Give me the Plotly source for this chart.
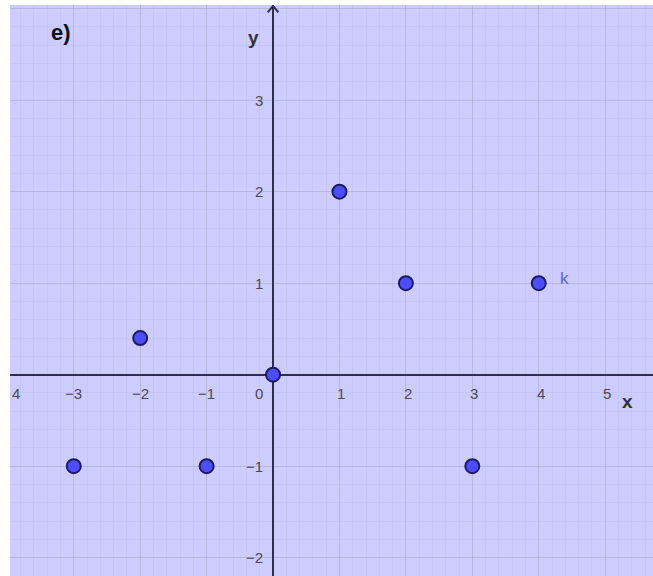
import plotly.graph_objects as go

# Data
point_x = [-3, -2, -1, 0, 1, 2, 3, 4]
point_y = [-1, 0.4, -1, 0, 2, 1, -1, 1]
point_label = "k"
x_ticks = [-4, -3, -2, -1, 1, 2, 3, 4, 5]
y_ticks = [-2, -1, 1, 2, 3]
x_range = [-3.96, 5.72]
y_range = [-2.20, 4.04]

bg = "#ccccfe"
axis_col = "#2e2e4c"
tick_col = "#4a4a55"
font_fam = "Liberation Sans, Arial, sans-serif"

fig = go.Figure()
fig.add_trace(go.Scatter(
    x=point_x, y=point_y, mode="markers",
    marker=dict(size=14, color="#4d4dff", line=dict(color="#1c1c5e", width=2)),
    hoverinfo="skip", showlegend=False, cliponaxis=False,
))

annotations = []
for t in x_ticks:
    if t == x_ticks[0]:
        annotations.append(dict(x=x_range[0], y=0, xref="x", yref="y", text=str(abs(t)),
                                showarrow=False, xanchor="left", yanchor="top", yshift=-8,
                                font=dict(size=15, color=tick_col, family=font_fam)))
        continue
    annotations.append(dict(x=t, y=0, xref="x", yref="y", text=("−" + str(-t)) if t < 0 else str(t),
                            showarrow=False, xanchor="center", yanchor="top", yshift=-8,
                            xshift=2 if t > 0 else 0,
                            font=dict(size=15, color=tick_col, family=font_fam)))
annotations.append(dict(x=0, y=0, xref="x", yref="y", text="0", showarrow=False,
                        xanchor="right", yanchor="top", yshift=-8, xshift=-8,
                        font=dict(size=15, color=tick_col, family=font_fam)))
for t in y_ticks:
    annotations.append(dict(x=0, y=t, xref="x", yref="y", text=("−" + str(-t)) if t < 0 else str(t),
                            showarrow=False, xanchor="right", yanchor="middle", xshift=-8,
                            font=dict(size=15, color=tick_col, family=font_fam)))
# label for point k
annotations.append(dict(x=point_x[-1], y=point_y[-1], xref="x", yref="y", text=point_label,
                        showarrow=False, xanchor="left", yanchor="middle", xshift=19, yshift=5,
                        font=dict(size=17, color="#6060f0", family=font_fam)))
# axis names
annotations.append(dict(x=0, y=y_range[1], xref="x", yref="y", text="<b>y</b>", showarrow=False,
                        xanchor="right", yanchor="top", xshift=-12, yshift=-20,
                        font=dict(size=19, color="#333333", family=font_fam)))
annotations.append(dict(x=x_range[1], y=0, xref="x", yref="y", text="<b>x</b>", showarrow=False,
                        xanchor="right", yanchor="top", xshift=-18, yshift=-14,
                        font=dict(size=19, color="#333333", family=font_fam)))
annotations.append(dict(x=x_range[0], y=y_range[1], xref="x", yref="y", text="<b>e)</b>", showarrow=False,
                        xanchor="left", yanchor="top", xshift=39, yshift=-13,
                        font=dict(size=22, color="#111111", family=font_fam)))

shapes = [dict(type="path", xref="x", yref="y",
               path=f"M -0.08 {y_range[1]-0.08} L 0 {y_range[1]-0.01} L 0.08 {y_range[1]-0.08}",
               line=dict(color=axis_col, width=2))]

grid_major = "rgba(160,160,185,0.45)"
grid_minor = "rgba(180,180,220,0.25)"

fig.update_layout(
    width=653, height=576,
    margin=dict(l=10, r=0, t=5, b=0),
    paper_bgcolor="white", plot_bgcolor=bg,
    annotations=annotations, shapes=shapes,
    xaxis=dict(range=x_range, dtick=1, tick0=0, showgrid=True, gridcolor=grid_major, gridwidth=1,
               showticklabels=False, ticks="", zeroline=True, zerolinecolor=axis_col, zerolinewidth=2,
               minor=dict(dtick=0.2, tick0=0, showgrid=True, gridcolor=grid_minor, gridwidth=1),
               showline=False, fixedrange=True),
    yaxis=dict(range=y_range, dtick=1, tick0=0, showgrid=True, gridcolor=grid_major, gridwidth=1,
               showticklabels=False, ticks="", zeroline=True, zerolinecolor=axis_col, zerolinewidth=2,
               minor=dict(dtick=0.2, tick0=0, showgrid=True, gridcolor=grid_minor, gridwidth=1),
               showline=False, fixedrange=True),
)

fig.write_html("out.html", config={"displayModeBar": False},
               post_script="document.body.style.margin='0';document.body.style.overflow='hidden';")
